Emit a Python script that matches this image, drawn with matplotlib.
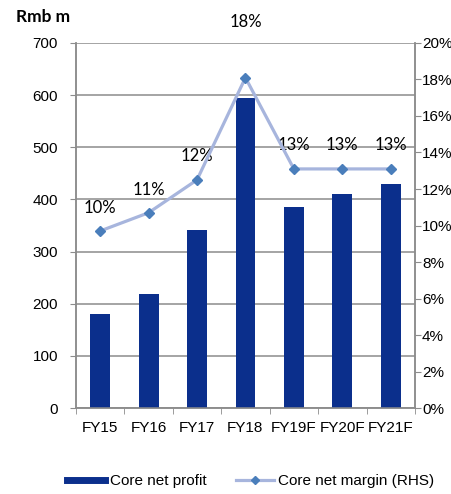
import matplotlib
matplotlib.use('Agg')
import matplotlib.pyplot as plt
from matplotlib.lines import Line2D
from matplotlib.ticker import FuncFormatter

# Дані
years = ['FY15', 'FY16', 'FY17', 'FY18', 'FY19F', 'FY20F', 'FY21F']
core_profit = [181, 219, 342, 594, 386, 410, 430]
core_margin = [9.7, 10.7, 12.5, 18.1, 13.1, 13.1, 13.1]
margin_labels = ['10%', '11%', '12%', '18%', '13%', '13%', '13%']
label_offsets = [23, 23, 24, 56, 24, 24, 24]

bar_color = '#0B2F8C'
line_color = '#A7B5DD'
marker_color = '#4A7EBB'
grid_color = '#8C8C8C'

plt.rcParams['font.family'] = ['Liberation Sans', 'DejaVu Sans']

fig = plt.figure(figsize=(4.52, 4.94), dpi=100)
ax = fig.add_axes([0.168, 0.174, 0.75, 0.739])
ax2 = ax.twinx()

x = range(len(years))
ax.bar(x, core_profit, width=0.41, color=bar_color, zorder=3)
ax.set_xlim(-0.5, len(years) - 0.5)
ax.set_ylim(0, 700)
ax.set_yticks(range(0, 701, 100))
ax.yaxis.grid(True, color=grid_color, linewidth=1.1, zorder=0)
ax.set_axisbelow(True)
ax.set_xticks(list(x))
ax.set_xticklabels(years, fontsize=11)
ax.set_xticks([i - 0.5 for i in range(len(years) + 1)], minor=True)
ax.tick_params(axis='x', which='major', length=0, pad=9)
ax.tick_params(axis='x', which='minor', length=4, color=grid_color, direction='out')
ax.tick_params(axis='y', length=4, color=grid_color, labelsize=11, pad=9)

ax2.plot(x, core_margin, color=line_color, linewidth=2.3, marker='D',
         markersize=5, markerfacecolor=marker_color, markeredgecolor=marker_color, zorder=4)
ax2.set_ylim(0, 20)
ax2.set_yticks(range(0, 21, 2))
ax2.yaxis.set_major_formatter(FuncFormatter(lambda v, p: f'{int(v)}%'))
ax2.tick_params(axis='y', length=4, color=grid_color, labelsize=11, pad=1)

for i, (v, lab, off) in enumerate(zip(core_margin, margin_labels, label_offsets)):
    ax2.annotate(lab, (i, v), xytext=(0, off), textcoords='offset pixels',
                 ha='center', va='center', fontsize=12, family=['Lato', 'DejaVu Sans'])

for a in (ax, ax2):
    a.spines['top'].set_visible(False)
    for s in ('left', 'right', 'bottom'):
        a.spines[s].set_color(grid_color)
        a.spines[s].set_linewidth(1.1)

fig.text(0.035, 0.965, 'Rmb m', fontsize=12.5, fontweight='bold',
         family=['Lato', 'DejaVu Sans'], va='center')

handles = [Line2D([], [], color=bar_color, linewidth=5),
           Line2D([], [], color=line_color, linewidth=2.3, marker='D', markersize=4,
                  markerfacecolor=marker_color, markeredgecolor=marker_color)]
fig.legend(handles, ['Core net profit', 'Core net margin (RHS)'], loc='center',
           bbox_to_anchor=(0.555, 0.026), ncol=2, frameon=False, fontsize=11,
           handlelength=2.5, columnspacing=1.9, handletextpad=0.3)

fig.savefig('out.png', dpi=100)
